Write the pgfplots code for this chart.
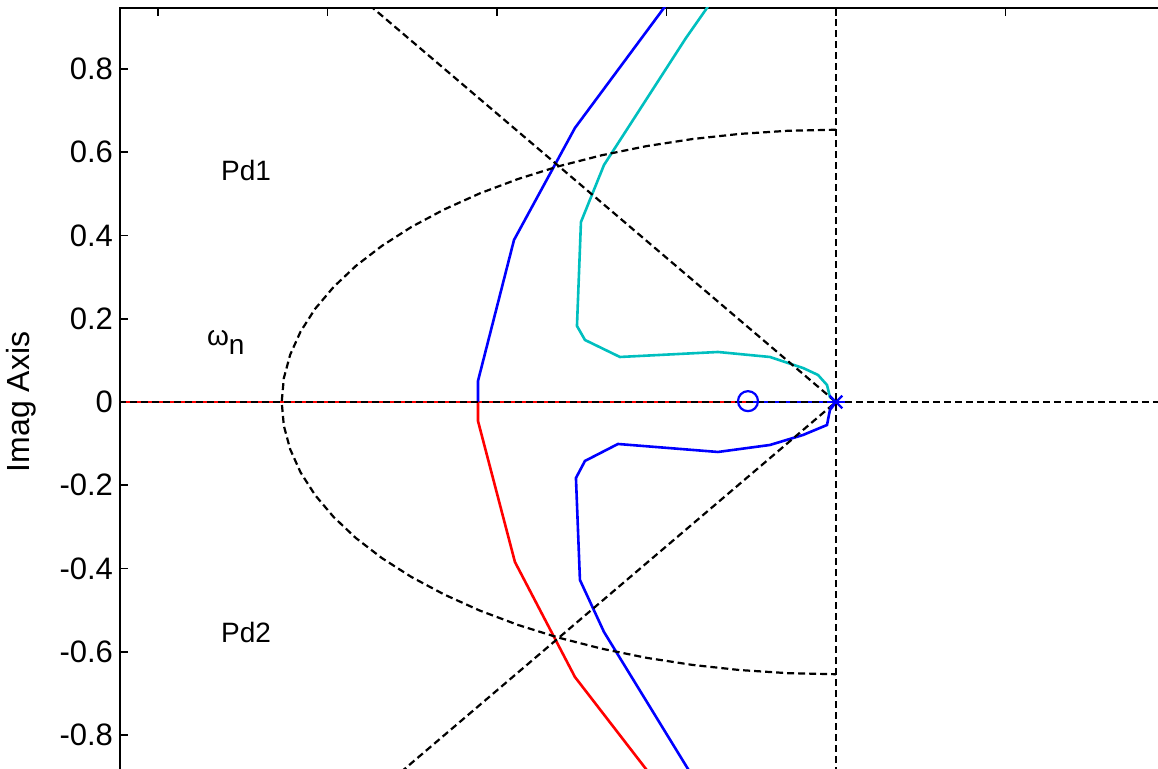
\documentclass[border=0pt]{standalone}
\usepackage{fontspec}
\setmainfont{Liberation Sans}
\usepackage{pgfplots}
\pgfplotsset{compat=1.18}
\definecolor{mblue}{RGB}{0,0,255}
\definecolor{mcyan}{RGB}{0,191,191}
\definecolor{mred}{RGB}{255,0,0}
\begin{document}
\begin{tikzpicture}
\useasboundingbox (-60pt,-380.5pt) rectangle (519pt,4pt);
\clip (-60pt,-380.5pt) rectangle (519pt,4pt);
\begin{axis}[
  at={(0pt,0pt)}, anchor=north west,
  x=423.75pt, y=208.125pt,
  xmin=-0.8448, xmax=0.6, ymin=-0.9465, ymax=0.9465,
  xtick={-0.8,-0.6,-0.4,-0.2,0,0.2,0.4},
  xticklabels={},
  ytick={-0.8,-0.6,-0.4,-0.2,0,0.2,0.4,0.6,0.8},
  yticklabels={-0.8,-0.6,-0.4,-0.2,0,0.2,0.4,0.6,0.8},
  tick label style={font=\fontsize{15.5}{18}\selectfont},
  ylabel={Imag Axis},
  every axis y label/.style={at={(axis description cs:0,0.5)}, rotate=90, anchor=south, yshift=38.5pt, font=\fontsize{16}{19}\selectfont},
  axis line style={line width=1pt},
  major tick length=4pt,
  every tick/.style={black, line width=0.8pt},
  dashgrid/.style={black, line width=1.1pt, dash pattern=on 3.5pt off 2pt},
  locus/.style={line width=1.3pt},
]
% red branch
\addplot[locus, mred] coordinates {(-0.95,0) (-0.1038,0)};
\addplot[locus, mred] coordinates {(-0.4224,0) (-0.4224,-0.0456) (-0.3788,-0.3844) (-0.3080,-0.6607) (-0.2242,-0.8817) (-0.1959,-0.9634)};
% blue upper branch
\addplot[locus, mblue] coordinates {(-0.4224,0) (-0.4224,0.0505) (-0.3799,0.3892) (-0.3080,0.6583) (-0.2030,0.9466) (-0.1770,1.0186)};
% blue real-axis segment
\addplot[locus, mblue] coordinates {(-0.1038,0) (0,0)};
% blue lower loop
\addplot[locus, mblue] coordinates {(0,0) (-0.0071,-0.0192) (-0.0106,-0.0553) (-0.0389,-0.0793) (-0.0779,-0.1033) (-0.1392,-0.1201) (-0.2572,-0.1009) (-0.2962,-0.1417) (-0.3068,-0.1826) (-0.3021,-0.4276) (-0.2737,-0.5526) (-0.1746,-0.8817) (-0.1605,-0.9297)};
% cyan upper loop
\addplot[locus, mcyan] coordinates {(0,0) (-0.0071,0.0120) (-0.0106,0.0408) (-0.0212,0.0649) (-0.0389,0.0817) (-0.0779,0.1081) (-0.1392,0.1201) (-0.2549,0.1081) (-0.2962,0.1490) (-0.3056,0.1826) (-0.3009,0.4324) (-0.2737,0.5694) (-0.1770,0.8745) (-0.1522,0.9466) (-0.1369,1.0018)};
% grid
\addplot[dashgrid] coordinates {(-0.95,0) (0.6,0)};
\addplot[dashgrid] coordinates {(0,-1) (0,1)};
\addplot[dashgrid] coordinates {(-0.6,1.0392) (0,0) (-0.6,-1.0392)};
\addplot[dashgrid] coordinates {(0,0.654) (-0.0570,0.6515) (-0.1136,0.644) (-0.1693,0.6317) (-0.2237,0.6146) (-0.2764,0.5927) (-0.327,0.5664) (-0.3751,0.5357) (-0.4204,0.501) (-0.4624,0.4624) (-0.501,0.4204) (-0.5357,0.3751) (-0.5664,0.327) (-0.5927,0.2764) (-0.6146,0.2237) (-0.6317,0.1693) (-0.644,0.1136) (-0.6515,0.0570) (-0.654,0) (-0.6515,-0.0570) (-0.644,-0.1136) (-0.6317,-0.1693) (-0.6146,-0.2237) (-0.5927,-0.2764) (-0.5664,-0.327) (-0.5357,-0.3751) (-0.501,-0.4204) (-0.4624,-0.4624) (-0.4204,-0.501) (-0.3751,-0.5357) (-0.327,-0.5664) (-0.2764,-0.5927) (-0.2237,-0.6146) (-0.1693,-0.6317) (-0.1136,-0.644) (-0.0570,-0.6515) (0,-0.654)};
% zero and poles
\addplot[only marks, mark=o, mark size=5pt, mblue, line width=1.1pt] coordinates {(-0.1038,0.002)};
\addplot[only marks, mark=x, mark size=4.5pt, mblue, line width=1.1pt] coordinates {(0,0)};
\addplot[only marks, mark=-, mark size=4.5pt, mblue, line width=1.1pt] coordinates {(0,0)};
% annotations
\node[font=\fontsize{14}{16}\selectfont] at (axis cs:-0.696,0.555) {Pd1};
\node[font=\fontsize{14}{16}\selectfont] at (axis cs:-0.696,-0.553) {Pd2};
\node[font=\fontsize{14}{16}\selectfont] at (axis cs:-0.72,0.142) {ω\raisebox{-0.6ex}{n}};
\end{axis}
\end{tikzpicture}
\end{document}
